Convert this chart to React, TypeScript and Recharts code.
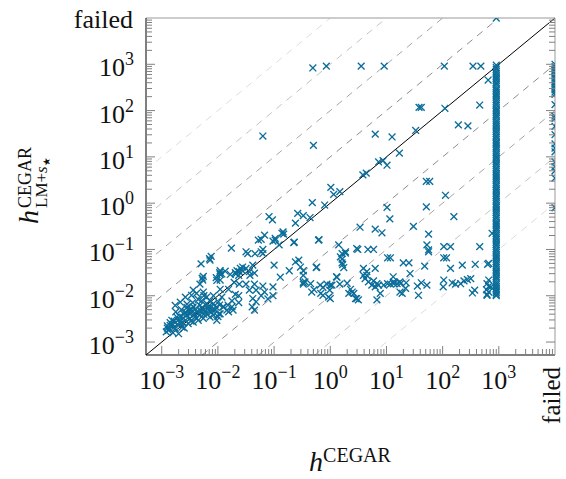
import { ScatterChart, Scatter, XAxis, YAxis, ReferenceLine } from "recharts";

const BLUE = "#0b6d9a";
const FAILED = 10000;
const LOG_MIN = -3.28;
const DOMAIN: [number, number] = [Math.pow(10, LOG_MIN), FAILED];

// plot box in page pixels
const LEFT = 146;
const RIGHT = 555;
const TOP = 18;
const BOTTOM = 355;
const FONT = "'Liberation Serif', 'DejaVu Serif', serif";
const LABEL_SIZE = 26;
const SUP_SIZE = 18;

const majorExponents = [-3, -2, -1, 0, 1, 2, 3];
const minorMultipliers = [2, 3, 4, 5, 6, 7, 8, 9];
const diagonalOffsets = [-4, -3, -2, -1, 1, 2, 3, 4];
const offsetColors = ["#8c8c8c", "#a6a6a6", "#c4c4c4", "#dddddd"];

// all points are [log10 x, log10 y]
const clusterLog: [number, number][] = [
  [-2.44, -2.24], [-2.32, -2.21], [-2.2, -2.17], [-2.08, -2.17], [-1.99, -2.13], [-1.9, -2.24],
  [-1.84, -2.31], [-2.05, -2.31], [-2.14, -2.28], [-2.26, -2.31], [-2.38, -2.35], [-2.5, -2.39],
  [-2.61, -2.39], [-2.73, -2.46], [-2.82, -2.53], [-2.85, -2.64], [-2.76, -2.71], [-2.67, -2.6],
  [-2.58, -2.53], [-2.5, -2.49], [-2.41, -2.46], [-2.32, -2.42], [-2.2, -2.39], [-2.08, -2.42],
  [-1.96, -2.39], [-2.7, -2.82], [-2.88, -2.75], [-2.64, -2.68], [-2.53, -2.6], [-2.44, -2.57],
  [-2.35, -2.53], [-2.26, -2.49], [-2.14, -2.46], [-1.93, -2.03], [-2.08, -2.0], [-2.14, -2.11],
  [-2.29, -2.11], [-2.02, -2.53], [-1.75, -2.24], [-1.81, -2.35], [-2.9, -2.7], [-2.85, -2.58],
  [-2.78, -2.55], [-2.72, -2.62], [-2.62, -2.48], [-2.55, -2.42], [-2.47, -2.3], [-2.4, -2.28],
  [-2.35, -2.38], [-2.28, -2.25], [-2.22, -2.33], [-2.16, -2.22], [-2.1, -2.3], [-2.03, -2.25],
  [-1.97, -2.2], [-2.6, -2.7], [-2.8, -2.8], [-2.92, -2.78], [-2.7, -2.52], [-2.52, -2.32],
  [-2.25, -2.4], [-2.12, -2.36], [-2.0, -2.45], [-2.38, -2.48], [-2.48, -2.55], [-2.9, -2.65],
  [-2.75, -2.35], [-2.65, -2.3], [-2.55, -2.25], [-2.45, -2.15], [-2.35, -2.08], [-2.25, -2.0],
  [-2.44, -1.88], [-2.38, -1.95], [-2.47, -1.99], [-2.26, -1.92], [-2.2, -2.03], [-2.58, -2.03],
  [-2.67, -2.14], [-2.55, -2.18], [-2.76, -2.21], [-1.91, -2.24], [-1.82, -2.2], [-1.73, -2.31],
  [-1.98, -2.39], [-2.8, -2.62], [-2.68, -2.45], [-2.57, -2.36], [-2.42, -2.4], [-2.3, -2.33],
  [-2.18, -2.27], [-2.62, -2.58], [-2.5, -2.3], [-2.86, -2.72], [-2.78, -2.68],
];

const lowerLeftLog: [number, number][] = [
  [-2.3, -1.31], [-2.15, -1.2], [-2.12, -1.15], [-2.28, -1.62], [-2.27, -1.66], [-1.97, -1.5],
  [-1.93, -1.53], [-2.02, -1.67], [-1.68, -1.53], [-1.62, -1.48], [-1.57, -1.45], [-1.5, -1.41],
  [-1.44, -1.48], [-1.38, -1.34], [-1.23, -1.05], [-1.2, -1.09], [-1.47, -1.09], [-1.5, -1.05],
  [-1.34, -1.09], [-1.71, -1.71], [-1.62, -1.75], [-1.5, -1.75], [-1.44, -1.88], [-1.35, -1.75],
  [-1.32, -1.88], [-1.2, -1.79], [-1.17, -1.92], [-1.02, -1.81], [-1.38, -2.06], [-1.32, -2.13],
  [-1.35, -2.31], [-1.39, -2.24], [-1.23, -2.0], [-1.11, -2.07], [-1.02, -2.0], [-1.96, -1.46],
  [-1.66, -1.46], [-1.6, -1.41], [-1.56, -1.38], [-1.43, -1.56], [-1.35, -1.51], [-2.26, -1.58],
  [-2.03, -1.61], [-1.96, -1.66], [-2.14, -1.23], [-2.32, -1.75], [-1.96, -1.54], [-1.87, -1.47],
  [-1.78, -1.54], [-1.69, -1.5], [-1.63, -1.56], [-1.96, -1.86], [-1.81, -1.86], [-1.69, -1.97],
  [-1.63, -2.0], [-1.75, -2.11], [-1.63, -2.15], [-1.76, -0.97], [-1.2, -1.0],
];

const upperLog: [number, number][] = [
  [-0.31, 2.92], [-0.07, 2.96], [0.55, 2.96], [0.96, 2.96], [2.03, 2.96], [2.54, 2.96],
  [2.68, 2.96], [2.81, 2.66], [2.66, 2.12], [1.58, 2.07], [1.62, 2.07], [2.04, 2.05],
  [2.28, 1.69], [2.45, 1.67], [1.52, 1.57], [0.8, 1.49], [1.1, 1.43], [-1.2, 1.45],
  [-0.3, 1.25], [1.23, 1.08], [0.86, 0.89], [0.94, 0.92], [1.01, 0.82], [0.58, 0.61],
  [0.64, 0.65], [0.01, 0.34], [0.06, 0.19], [0.17, 0.25], [-0.32, 0.01], [-0.1, -0.04],
  [-1.09, -0.29], [-1.03, -0.36], [-0.58, -0.22], [-0.48, -0.27], [-0.36, -0.31], [-0.62, -0.43],
  [-1.17, -0.69], [-1.23, -0.78], [-0.84, -0.62], [-0.83, -0.67], [-0.98, -0.76], [-1.02, -0.82],
  [-0.91, -0.9], [-0.65, -0.85], [-0.2, -0.79], [-1.28, -0.8], [-0.98, -0.8], [-0.86, -0.65],
];

const belowLog: [number, number][] = [
  [1.71, 0.47], [1.77, 0.47], [2.05, 0.17], [1.01, -0.09], [1.71, -0.08], [1.06, -0.34],
  [2.2, -0.29], [0.53, -0.52], [0.8, -0.56], [0.92, -0.64], [1.48, -0.5], [1.75, -0.67],
  [-0.21, -0.8], [0.15, -0.9], [1.72, -0.9], [1.75, -1.01], [1.75, -1.05], [2.02, -0.94],
  [2.14, -0.94], [2.66, -0.94], [0.49, -1.0], [0.67, -1.0], [0.77, -1.0], [0.27, -1.05],
  [0.18, -1.16], [1.02, -1.18], [1.07, -1.18], [2.02, -1.18], [2.07, -1.18], [0.21, -1.29],
  [0.24, -1.39], [0.22, -1.33], [1.3, -1.29], [1.4, -1.29], [1.68, -1.36], [2.14, -1.41],
  [2.35, -1.34], [2.58, -1.32], [2.8, -1.32], [-0.25, -1.39], [0.8, -1.41], [0.59, -1.41],
  [0.65, -1.48], [0.59, -1.56], [1.42, -1.52], [0.11, -1.59], [2.88, -0.65], [0.21, -1.09],
  [0.27, -1.08], [0.21, -1.21], [0.47, -0.98], [-0.64, -0.84], [0.12, -1.6], [-0.73, -1.46],
  [-0.89, -1.6], [-0.53, -1.38], [-0.24, -1.38], [-0.62, -1.27], [-0.56, -1.23], [-1.0, -1.34],
  [-0.48, -1.46], [-0.48, -1.56], [-0.48, -1.71], [-0.35, -1.74],
];

const bandLog: [number, number][] = [
  [-0.45, -1.7], [-0.48, -1.75], [-0.33, -1.92], [-0.18, -1.77], [-0.13, -1.82], [-0.17, -1.95],
  [0.0, -1.77], [-0.01, -1.88], [0.0, -2.06], [0.17, -1.75], [0.3, -1.73], [0.33, -1.95],
  [0.39, -1.92], [0.45, -2.06], [0.62, -1.63], [0.68, -1.7], [0.74, -1.77], [0.8, -1.81],
  [0.89, -1.95], [0.86, -1.77], [0.95, -1.77], [1.02, -1.74], [1.07, -1.75], [1.12, -1.59],
  [1.13, -1.74], [1.25, -1.74], [1.24, -1.92], [1.28, -1.95], [1.35, -1.72], [1.34, -1.84],
  [1.55, -1.79], [1.57, -1.99], [1.62, -1.72], [1.72, -1.77], [2.02, -1.66], [2.01, -1.81],
  [2.17, -1.72], [2.23, -1.75], [2.32, -1.74], [2.38, -1.68], [2.44, -1.65], [2.5, -1.63],
  [2.53, -1.94], [2.57, -1.88], [2.78, -1.87], [2.79, -1.99], [2.86, -1.81], [-0.29, -1.87],
  [-0.06, -1.75], [0.03, -1.77], [-0.03, -2.03], [-0.13, -1.99], [0.36, -1.86], [0.42, -1.95],
  [0.47, -2.06], [0.5, -2.09], [0.65, -1.56], [0.77, -1.68], [0.83, -1.74], [1.13, -1.7],
  [1.19, -1.74], [1.24, -1.7], [0.83, -2.09], [2.82, -1.3], [2.82, -1.66], [2.79, -1.74],
  [2.82, -1.8], [2.82, -1.92], [2.79, -1.97],
];

// timeout column at x = 900
const timeoutX = 900;
const timeoutColumnLog = [
  -2.0, -1.97, -1.93, -1.9, -1.85, -1.81, -1.76, -1.72, -1.67, -1.62, -1.58, -1.53, -1.49, -1.44,
  -1.39, -1.35, -1.3, -1.26, -1.21, -1.16, -1.12, -1.07, -1.02, -0.98, -0.93, -0.89, -0.84, -0.79,
  -0.75, -0.7, -0.66, -0.61, -0.56, -0.52, -0.47, -0.43, -0.38, -0.33, -0.29, -0.24, -0.2, -0.15,
  -0.1, -0.06, -0.01, 0.04, 0.08, 0.13, 0.17, 0.22, 0.27, 0.31, 0.36, 0.4, 0.45, 0.5, 0.54, 0.59,
  0.63, 0.68, 0.73, 0.77, 0.82, 0.86, 0.91, 0.96, 1.0, 1.05, 1.09, 1.14, 1.19, 1.23, 1.28, 1.32,
  1.37, 1.42, 1.46, 1.51, 1.55, 1.6, 1.65, 1.69, 1.74, 1.78, 1.83, 1.88, 1.92, 1.97, 2.01, 2.06,
  2.11, 2.15, 2.2, 2.24, 2.29, 2.34, 2.38, 2.43, 2.47, 2.52, 2.57, 2.61, 2.66, 2.7, 2.75, 2.8,
  2.84, 2.89, 2.93, 2.98,
];

// CEGAR failed, LM+s* solved
const failedXLog = [
  3.0, 2.95, 2.9, 2.86, 2.8, 2.75, 2.7, 2.64, 2.6, 2.55, 2.5, 2.45, 2.4, 2.35, 2.13, 1.88, 1.83,
  1.66, 1.48, 1.28, 1.19, 1.11, 0.89, 0.79, 0.7, 0.54, -0.1,
];
// LM+s* failed
const failedYXLog = [2.954];

const toPoints = (arr: [number, number][]) =>
  arr.map(([a, b]) => ({ x: Math.pow(10, a), y: Math.pow(10, b) }));

const scatterGroups = [
  toPoints(clusterLog),
  toPoints(lowerLeftLog),
  toPoints(upperLog),
  toPoints(belowLog),
  toPoints(bandLog),
  timeoutColumnLog.map((v) => ({ x: timeoutX, y: Math.pow(10, v) })),
  failedXLog.map((v) => ({ x: FAILED, y: Math.pow(10, v) })),
  failedYXLog.map((v) => ({ x: Math.pow(10, v), y: FAILED })),
];

const ticks = [
  ...majorExponents.flatMap((e) => [
    Math.pow(10, e),
    ...minorMultipliers.map((m) => m * Math.pow(10, e)),
  ]),
  FAILED,
];

const isMajor = (v: number) => {
  const e = Math.log10(v);
  return Math.abs(e - Math.round(e)) < 1e-6;
};

const expLabel = (v: number) => {
  const e = Math.round(Math.log10(v));
  return e < 0 ? `\u2212${-e}` : `${e}`;
};

const TICK_COLOR = "#808080";

function Cross(props: any) {
  const { cx, cy } = props;
  const s = 3.4;
  return (
    <path
      d={`M${cx - s},${cy - s}L${cx + s},${cy + s}M${cx - s},${cy + s}L${cx + s},${cy - s}`}
      stroke={BLUE}
      strokeWidth={1.35}
      fill="none"
    />
  );
}

function BottomTick(props: any) {
  const { x, payload } = props;
  const v = payload.value;
  if (v >= FAILED) {
    return (
      <text
        x={x + 5}
        y={BOTTOM + 12}
        transform={`rotate(-90 ${x + 5} ${BOTTOM + 12})`}
        textAnchor="end"
        fontFamily={FONT}
        fontSize={LABEL_SIZE - 1}
        fill="#111"
      >
        failed
      </text>
    );
  }
  const major = isMajor(v);
  return (
    <g>
      <line x1={x} x2={x} y1={BOTTOM} y2={BOTTOM - (major ? 9 : 6)} stroke={TICK_COLOR} />
      {major && (
        <text x={x} y={BOTTOM + 34} textAnchor="middle" fontFamily={FONT} fontSize={LABEL_SIZE} fill="#111">
          10
          <tspan dy={-11} fontSize={SUP_SIZE}>
            {expLabel(v)}
          </tspan>
        </text>
      )}
    </g>
  );
}

function TopTick(props: any) {
  const { x, payload } = props;
  const v = payload.value;
  if (v >= FAILED) return <g />;
  const major = isMajor(v);
  return <line x1={x} x2={x} y1={TOP} y2={TOP + (major ? 9 : 6)} stroke={TICK_COLOR} />;
}

function LeftTick(props: any) {
  const { y, payload } = props;
  const v = payload.value;
  if (v >= FAILED) {
    return (
      <text x={LEFT - 13} y={y + 10} textAnchor="end" fontFamily={FONT} fontSize={LABEL_SIZE} fill="#111">
        failed
      </text>
    );
  }
  const major = isMajor(v);
  return (
    <g>
      <line x1={LEFT} x2={LEFT + (major ? 9 : 6)} y1={y} y2={y} stroke={TICK_COLOR} />
      {major && (
        <text x={LEFT - 12} y={y + 12} textAnchor="end" fontFamily={FONT} fontSize={LABEL_SIZE} fill="#111">
          10
          <tspan dy={-11} fontSize={SUP_SIZE}>
            {expLabel(v)}
          </tspan>
        </text>
      )}
    </g>
  );
}

function RightTick(props: any) {
  const { y, payload } = props;
  const v = payload.value;
  if (v >= FAILED) return <g />;
  const major = isMajor(v);
  return <line x1={RIGHT} x2={RIGHT - (major ? 9 : 6)} y1={y} y2={y} stroke={TICK_COLOR} />;
}

// y = 10^k * x, clipped to the plotted domain
const offsetSegment = (k: number) => {
  const x0 = Math.max(LOG_MIN, LOG_MIN - k);
  const x1 = Math.min(4, 4 - k);
  return [
    { x: Math.pow(10, x0), y: Math.pow(10, x0 + k) },
    { x: Math.pow(10, x1), y: Math.pow(10, x1 + k) },
  ];
};

export default function App() {
  return (
    <div style={{ position: "absolute", left: 0, top: 0, width: 566, height: 479, background: "#fff" }}>
      <ScatterChart
        width={566}
        height={479}
        margin={{ top: TOP - 10, right: 566 - RIGHT - 10, bottom: 479 - BOTTOM - 30, left: LEFT - 60 }}
      >
        <XAxis
          xAxisId="bottom"
          dataKey="x"
          type="number"
          scale="log"
          domain={DOMAIN}
          allowDataOverflow
          ticks={ticks}
          interval={0}
          height={30}
          tickLine={false}
          axisLine={{ stroke: "#000" }}
          tick={(p: any) => <BottomTick {...p} />}
        />
        <XAxis
          xAxisId="top"
          orientation="top"
          type="number"
          scale="log"
          domain={DOMAIN}
          allowDataOverflow
          ticks={ticks}
          interval={0}
          height={10}
          tickLine={false}
          axisLine={{ stroke: "#999" }}
          tick={(p: any) => <TopTick {...p} />}
        />
        <YAxis
          yAxisId="left"
          dataKey="y"
          type="number"
          scale="log"
          domain={DOMAIN}
          allowDataOverflow
          ticks={ticks}
          interval={0}
          width={60}
          tickLine={false}
          axisLine={{ stroke: "#000" }}
          tick={(p: any) => <LeftTick {...p} />}
        />
        <YAxis
          yAxisId="right"
          orientation="right"
          type="number"
          scale="log"
          domain={DOMAIN}
          allowDataOverflow
          ticks={ticks}
          interval={0}
          width={10}
          tickLine={false}
          axisLine={{ stroke: "#999" }}
          tick={(p: any) => <RightTick {...p} />}
        />
        {diagonalOffsets.map((k) => (
          <ReferenceLine
            key={k}
            xAxisId="bottom"
            yAxisId="left"
            segment={offsetSegment(k)}
            stroke={offsetColors[Math.abs(k) - 1]}
            strokeDasharray="7 6"
            strokeWidth={1}
          />
        ))}
        <ReferenceLine
          xAxisId="bottom"
          yAxisId="left"
          segment={offsetSegment(0)}
          stroke="#000"
          strokeWidth={1}
        />
        {scatterGroups.map((pts, i) => (
          <Scatter
            key={i}
            xAxisId="bottom"
            yAxisId="left"
            data={pts}
            shape={(p: any) => <Cross {...p} />}
            isAnimationActive={false}
          />
        ))}
      </ScatterChart>
      <svg
        width={566}
        height={479}
        style={{ position: "absolute", left: 0, top: 0, pointerEvents: "none" }}
      >
        <text x={350} y={471} textAnchor="middle" fontFamily={FONT} fill="#111">
          <tspan fontStyle="italic" fontSize={28}>
            h
          </tspan>
          <tspan dy={-9} fontSize={20}>
            CEGAR
          </tspan>
        </text>
        <g transform="translate(38 224) rotate(-90)" fontFamily={FONT} fill="#111">
          <text x={0} y={0} fontStyle="italic" fontSize={28}>
            h
          </text>
          <text x={16} y={-7} fontSize={18}>
            CEGAR
          </text>
          <text x={16} y={9} fontSize={17}>
            LM+
            <tspan fontStyle="italic">s</tspan>
            <tspan fontSize={10} dy={3} fontFamily="'DejaVu Sans', sans-serif">
              {"\u2605"}
            </tspan>
          </text>
        </g>
      </svg>
    </div>
  );
}
